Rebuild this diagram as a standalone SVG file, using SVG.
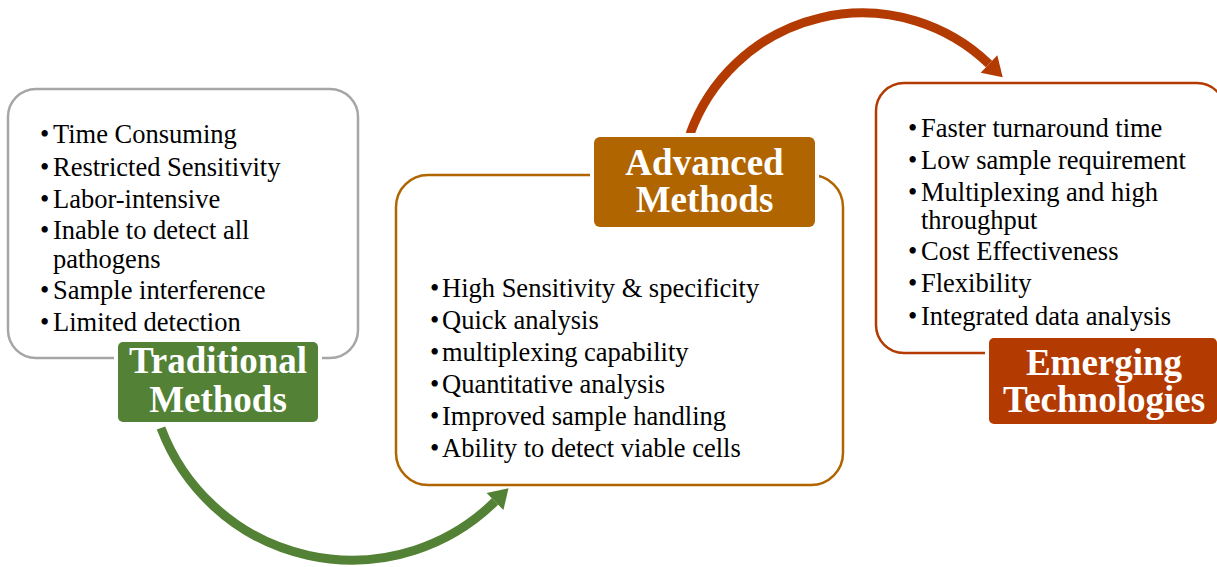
<svg xmlns="http://www.w3.org/2000/svg" width="1217" height="567" viewBox="0 0 1217 567">
  <style>
    .box { fill: #ffffff; stroke-width: 2.5; }
    .label { stroke: #ffffff; stroke-width: 8; paint-order: stroke; }
    .item { font-family: "Liberation Serif", "Times New Roman", serif; font-size: 26.5px; fill: #000000; }
    .title { font-family: "Liberation Serif", "Times New Roman", serif; font-size: 37px; font-weight: bold; fill: #ffffff; text-anchor: middle; }
    .arc { fill: none; stroke-width: 9; }
  </style>
  <defs>
    <marker id="headGreen" markerUnits="userSpaceOnUse" markerWidth="24" markerHeight="26" refX="0" refY="12" orient="auto" overflow="visible">
      <polygon points="0,0 19,12 0,24" fill="#538135"/>
    </marker>
    <marker id="headRed" markerUnits="userSpaceOnUse" markerWidth="24" markerHeight="26" refX="0" refY="12" orient="auto" overflow="visible">
      <polygon points="0,0 19,12 0,24" fill="#B33A00"/>
    </marker>
  </defs>

  <!-- connectors -->
  <g id="connectors">
    <path class="arc" stroke="#538135" d="M161,428 A204,204 0 0 0 495,501.5" marker-end="url(#headGreen)"/>
    <path class="arc" stroke="#B33A00" d="M690,134 A183,183 0 0 1 989,64" marker-end="url(#headRed)"/>
  </g>

  <!-- Traditional Methods -->
  <g id="traditional">
    <rect class="box" x="8" y="89" width="350" height="269" rx="28" stroke="#A6A6A6"/>
    <g class="item">
      <text x="40" y="143">•</text><text x="53" y="143">Time Consuming</text>
      <text x="40" y="175.5">•</text><text x="53" y="175.5">Restricted Sensitivity</text>
      <text x="40" y="207.5">•</text><text x="53" y="207.5">Labor-intensive</text>
      <text x="40" y="239">•</text><text x="53" y="239">Inable to detect all</text>
      <text x="53" y="267.5">pathogens</text>
      <text x="40" y="299">•</text><text x="53" y="299">Sample interference</text>
      <text x="40" y="331">•</text><text x="53" y="331">Limited detection</text>
    </g>
    <rect class="label" x="118" y="342" width="200" height="80" rx="5" fill="#538135"/>
    <text class="title" x="218" y="373">Traditional</text>
    <text class="title" x="218" y="412">Methods</text>
  </g>

  <!-- Advanced Methods -->
  <g id="advanced">
    <rect class="box" x="396" y="175" width="447" height="310" rx="32" stroke="#B06500"/>
    <g class="item">
      <text x="430" y="297">•</text><text x="442" y="297">High Sensitivity &amp; specificity</text>
      <text x="430" y="329">•</text><text x="442" y="329">Quick analysis</text>
      <text x="430" y="360.5">•</text><text x="442" y="360.5">multiplexing capability</text>
      <text x="430" y="393">•</text><text x="442" y="393">Quantitative analysis</text>
      <text x="430" y="425">•</text><text x="442" y="425">Improved sample handling</text>
      <text x="430" y="457">•</text><text x="442" y="457">Ability to detect viable cells</text>
    </g>
    <rect class="label" x="594" y="137" width="221" height="90" rx="6" fill="#B06500"/>
    <text class="title" x="704.5" y="175">Advanced</text>
    <text class="title" x="704.5" y="212">Methods</text>
  </g>

  <!-- Emerging Technologies -->
  <g id="emerging">
    <rect class="box" x="876" y="83" width="349" height="270" rx="28" stroke="#B33A00"/>
    <g class="item">
      <text x="908" y="137">•</text><text x="921" y="137">Faster turnaround time</text>
      <text x="908" y="169">•</text><text x="921" y="169">Low sample requirement</text>
      <text x="908" y="201">•</text><text x="921" y="201">Multiplexing and high</text>
      <text x="921" y="228.5">throughput</text>
      <text x="908" y="260">•</text><text x="921" y="260">Cost Effectiveness</text>
      <text x="908" y="292">•</text><text x="921" y="292">Flexibility</text>
      <text x="908" y="325">•</text><text x="921" y="325">Integrated data analysis</text>
    </g>
    <rect class="label" x="989" y="338" width="228" height="86" rx="5" fill="#B33A00"/>
    <text class="title" x="1104" y="375">Emerging</text>
    <text class="title" x="1104" y="412">Technologies</text>
  </g>
</svg>
